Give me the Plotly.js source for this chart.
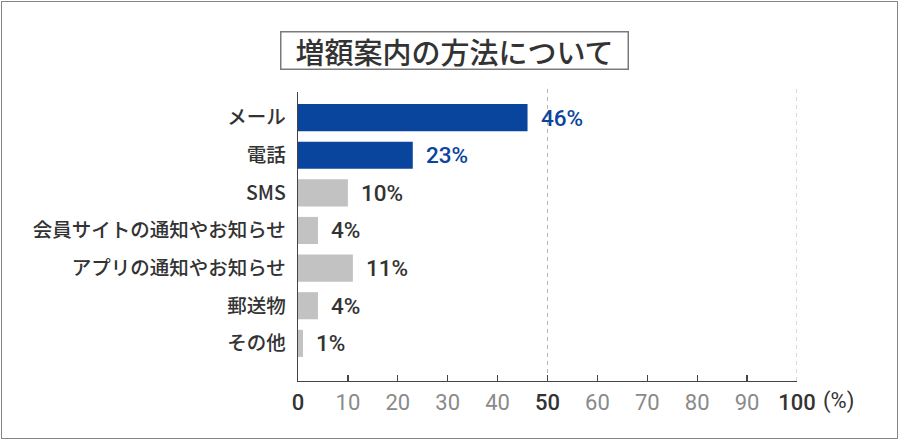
<!DOCTYPE html>
<html>
<head>
<meta charset="utf-8">
<script src="https://cdn.plot.ly/plotly-3.0.1.min.js"></script>
<style>
  html, body { margin: 0; padding: 0; background: #fff; }
  #wrap { position: relative; width: 900px; height: 440px; }
  #chart { width: 900px; height: 440px; }
  #frame { position: absolute; left: 1px; top: 1px; width: 895px; height: 436px;
           border: 1.5px solid #858585; pointer-events: none; }
</style>
</head>
<body>
<div id="wrap"><div id="chart"></div><div id="frame"></div></div>
<script>
const titleText = "増額案内の方法について";
const categories = ["メール", "電話", "SMS", "会員サイトの通知やお知らせ", "アプリの通知やお知らせ", "郵送物", "その他"];
const values = [46, 23, 10, 4, 11, 4, 1];
const highlighted = [true, true, false, false, false, false, false];
const tickValues = [0, 10, 20, 30, 40, 50, 60, 70, 80, 90, 100];
const tickLabels = ["0", "10", "20", "30", "40", "50", "60", "70", "80", "90", "100"];
const majorTicks = [0, 50, 100];
const dashedGrid = [50, 100];
const unitLabel = "(%)";

const BLUE = "#0a459d";
const GRAY_BAR = "#c2c2c2";
const DARK = "#333333";
const LIGHT = "#8a8a8a";
const NUM = "Roboto, 'Liberation Sans', Arial, sans-serif";
const CJK = "'Noto Sans CJK JP', 'Liberation Sans', sans-serif";

const barColors = highlighted.map(h => h ? BLUE : GRAY_BAR);

const trace = {
  type: "bar",
  orientation: "h",
  x: values,
  y: categories,
  width: 0.72,
  marker: { color: barColors, line: { width: 0 } },
  hoverinfo: "skip"
};

const annotations = categories.map((c, i) => ({
  x: values[i], y: c, xref: "x", yref: "y",
  text: values[i] + "%",
  showarrow: false, xanchor: "left", yanchor: "middle", xshift: 11,
  font: { family: NUM, size: 22.5, color: highlighted[i] ? BLUE : DARK, weight: 500 }
}));

annotations.push({
  x: 0.3136, y: 1.145, xref: "paper", yref: "paper",
  text: titleText, showarrow: false,
  xanchor: "center", yanchor: "middle",
  width: 344, height: 34, borderpad: 1,
  bordercolor: "#7a7a7a", borderwidth: 1.5,
  font: { family: CJK, size: 29, color: DARK, weight: 500 }
});

annotations.push({
  x: 100, y: 0, xref: "x", yref: "paper",
  text: unitLabel, showarrow: false,
  xanchor: "left", yanchor: "top", xshift: 24, yshift: -5,
  font: { family: NUM, size: 22, color: DARK }
});

const shapes = dashedGrid.map(v => ({
  type: "line", xref: "x", yref: "paper",
  x0: v, x1: v, y0: 0, y1: 1.025,
  line: { color: "#b5b5b5", width: 1, dash: "4px,4px" },
  layer: "below"
}));

const layout = {
  width: 900, height: 440,
  margin: { l: 298, r: 103, t: 92, b: 59 },
  paper_bgcolor: "#ffffff",
  plot_bgcolor: "rgba(0,0,0,0)",
  showlegend: false,
  xaxis: {
    range: [0, 100],
    tickvals: tickValues,
    ticktext: tickLabels.map((t, i) => majorTicks.includes(tickValues[i]) ? '<span style="font-weight:500">' + t + '</span>' : '<span style="color:' + LIGHT + '">' + t + '</span>'),
    ticks: "inside", ticklen: 6, tickwidth: 1.3, tickcolor: "#444",
    showgrid: false, zeroline: false,
    showline: true, linecolor: "#444", linewidth: 1.3,
    tickfont: { family: NUM, size: 22, color: DARK },
    ticklabelstandoff: 1,
    fixedrange: true
  },
  yaxis: {
    type: "category",
    range: [7.0, -0.68],
    showgrid: false, zeroline: false,
    showline: true, linecolor: "#444", linewidth: 1.3,
    ticks: "",
    tickfont: { family: CJK, size: 19.5, color: DARK, weight: 500 },
    ticklabelstandoff: 7,
    fixedrange: true
  },
  annotations: annotations,
  shapes: shapes
};

Plotly.newPlot("chart", [trace], layout, { displayModeBar: false, staticPlot: true });
</script>
</body>
</html>
